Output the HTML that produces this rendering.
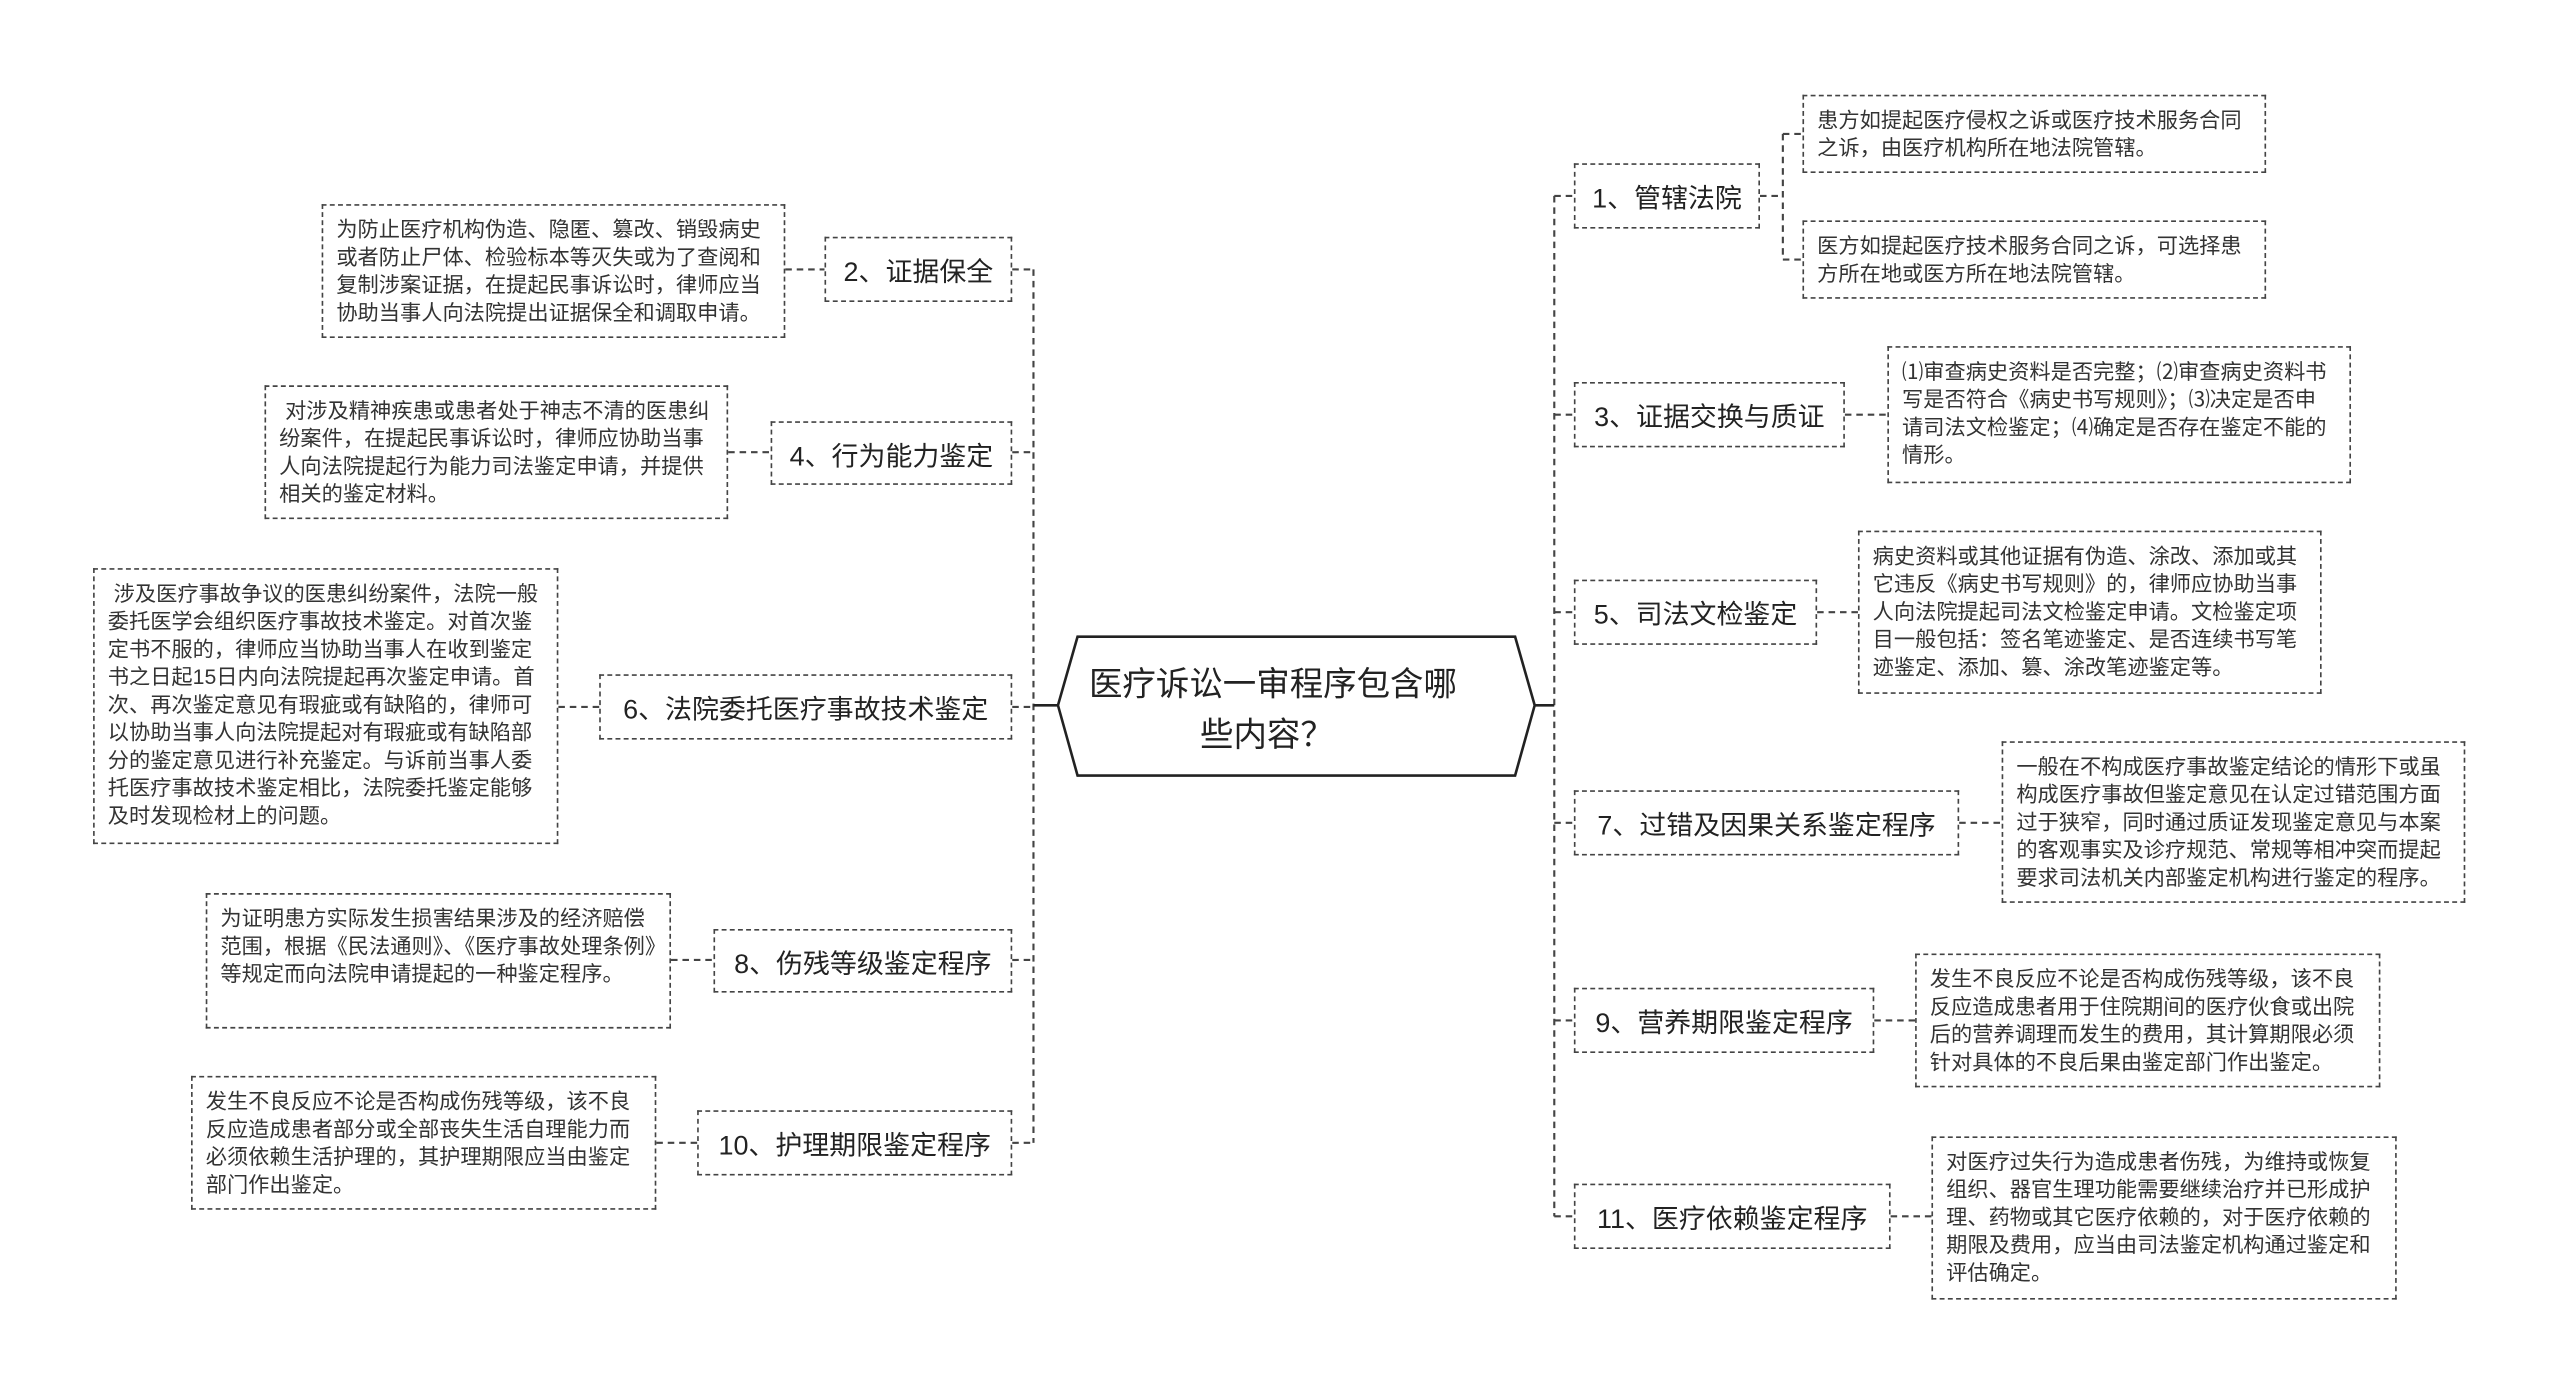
<!DOCTYPE html>
<html><head><meta charset="utf-8">
<style>
html,body{margin:0;padding:0;background:#fff;}
body{width:2560px;height:1394px;overflow:hidden;position:relative;}
#c{position:absolute;left:0;top:0;width:1568px;height:854px;transform:scale(1.63265);transform-origin:0 0;font-family:"Liberation Sans","Noto Sans CJK SC",sans-serif;color:#222;}
.b{position:absolute;border:1px dashed #444;box-sizing:border-box;display:flex;align-items:center;justify-content:center;font-size:16.5px;white-space:nowrap;}
.d{position:absolute;border:1px dashed #444;box-sizing:border-box;font-size:13px;line-height:17px;padding:6px 8px;color:#333;}
svg{position:absolute;left:0;top:0;}
</style></head><body><div id="c">
<svg width="1568" height="854" viewBox="0 0 1568 854">
<g stroke="#444" stroke-width="1.3" fill="none" stroke-dasharray="4,3">
<line x1="633" y1="165" x2="633" y2="700"/>
<line x1="952" y1="120" x2="952" y2="745"/>
<line x1="620" y1="165" x2="633" y2="165"/>
<line x1="620" y1="277" x2="633" y2="277"/>
<line x1="620" y1="433" x2="633" y2="433"/>
<line x1="620" y1="588" x2="633" y2="588"/>
<line x1="620" y1="700" x2="633" y2="700"/>
<line x1="952" y1="120" x2="964" y2="120"/>
<line x1="952" y1="254" x2="964" y2="254"/>
<line x1="952" y1="375" x2="964" y2="375"/>
<line x1="952" y1="504" x2="964" y2="504"/>
<line x1="952" y1="625" x2="964" y2="625"/>
<line x1="952" y1="745" x2="964" y2="745"/>
<line x1="481" y1="165" x2="505" y2="165"/>
<line x1="446" y1="277" x2="472" y2="277"/>
<line x1="342" y1="433" x2="367" y2="433"/>
<line x1="411" y1="588" x2="437" y2="588"/>
<line x1="402" y1="700" x2="427" y2="700"/>
<line x1="1078" y1="120" x2="1092" y2="120"/>
<line x1="1092" y1="82" x2="1092" y2="159"/>
<line x1="1092" y1="82" x2="1104" y2="82"/>
<line x1="1092" y1="159" x2="1104" y2="159"/>
<line x1="1130" y1="254" x2="1156" y2="254"/>
<line x1="1113" y1="375" x2="1138" y2="375"/>
<line x1="1200" y1="504" x2="1226" y2="504"/>
<line x1="1148" y1="625" x2="1173" y2="625"/>
<line x1="1158" y1="745" x2="1183" y2="745"/>
</g>
<g stroke="#222" stroke-width="1.6" fill="none">
<line x1="633" y1="432" x2="648" y2="432"/>
<line x1="940" y1="432" x2="952" y2="432"/>
<polygon points="648,432 660,390 928,390 940,432 928,475 660,475" fill="#fff"/>
</g>
<text x="667" y="426" font-size="20.5" fill="#222" font-family="Liberation Sans, Noto Sans CJK SC, sans-serif">医疗诉讼一审程序包含哪</text>
<text x="735" y="457" font-size="20.5" fill="#222" font-family="Liberation Sans, Noto Sans CJK SC, sans-serif">些内容？</text>
</svg>

<div class="b" style="left:505px;top:145px;width:115px;height:40px;">2、证据保全</div>
<div class="b" style="left:472px;top:258px;width:148px;height:39px;">4、行为能力鉴定</div>
<div class="b" style="left:367px;top:413px;width:253px;height:40px;">6、法院委托医疗事故技术鉴定</div>
<div class="b" style="left:437px;top:569px;width:183px;height:39px;">8、伤残等级鉴定程序</div>
<div class="b" style="left:427px;top:680px;width:193px;height:40px;">10、护理期限鉴定程序</div>

<div class="b" style="left:964px;top:100px;width:114px;height:40px;">1、管辖法院</div>
<div class="b" style="left:964px;top:234px;width:166px;height:40px;">3、证据交换与质证</div>
<div class="b" style="left:964px;top:355px;width:149px;height:40px;">5、司法文检鉴定</div>
<div class="b" style="left:964px;top:484px;width:236px;height:40px;">7、过错及因果关系鉴定程序</div>
<div class="b" style="left:964px;top:605px;width:184px;height:40px;">9、营养期限鉴定程序</div>
<div class="b" style="left:964px;top:725px;width:194px;height:40px;">11、医疗依赖鉴定程序</div>

<div class="d" style="left:197px;top:125px;width:284px;height:82px;">为防止医疗机构伪造、隐匿、篡改、销毁病史或者防止尸体、检验标本等灭失或为了查阅和复制涉案证据，在提起民事诉讼时，律师应当协助当事人向法院提出证据保全和调取申请。</div>
<div class="d" style="left:162px;top:236px;width:284px;height:82px;">&nbsp;对涉及精神疾患或患者处于神志不清的医患纠纷案件，在提起民事诉讼时，律师应协助当事人向法院提起行为能力司法鉴定申请，并提供相关的鉴定材料。</div>
<div class="d" style="left:57px;top:348px;width:285px;height:169px;">&nbsp;涉及医疗事故争议的医患纠纷案件，法院一般委托医学会组织医疗事故技术鉴定。对首次鉴定书不服的，律师应当协助当事人在收到鉴定书之日起15日内向法院提起再次鉴定申请。首次、再次鉴定意见有瑕疵或有缺陷的，律师可以协助当事人向法院提起对有瑕疵或有缺陷部分的鉴定意见进行补充鉴定。与诉前当事人委托医疗事故技术鉴定相比，法院委托鉴定能够及时发现检材上的问题。</div>
<div class="d" style="left:126px;top:547px;width:285px;height:83px;">为证明患方实际发生损害结果涉及的经济赔偿范围，根据《民法通则》、《医疗事故处理条例》等规定而向法院申请提起的一种鉴定程序。</div>
<div class="d" style="left:117px;top:659px;width:285px;height:82px;">发生不良反应不论是否构成伤残等级，该不良反应造成患者部分或全部丧失生活自理能力而必须依赖生活护理的，其护理期限应当由鉴定部门作出鉴定。</div>

<div class="d" style="left:1104px;top:58px;width:284px;height:48px;">患方如提起医疗侵权之诉或医疗技术服务合同之诉，由医疗机构所在地法院管辖。</div>
<div class="d" style="left:1104px;top:135px;width:284px;height:48px;">医方如提起医疗技术服务合同之诉，可选择患方所在地或医方所在地法院管辖。</div>
<div class="d" style="left:1156px;top:212px;width:284px;height:84px;">⑴审查病史资料是否完整；⑵审查病史资料书写是否符合《病史书写规则》；⑶决定是否申请司法文检鉴定；⑷确定是否存在鉴定不能的情形。</div>
<div class="d" style="left:1138px;top:325px;width:284px;height:100px;">病史资料或其他证据有伪造、涂改、添加或其它违反《病史书写规则》的，律师应协助当事人向法院提起司法文检鉴定申请。文检鉴定项目一般包括：签名笔迹鉴定、是否连续书写笔迹鉴定、添加、篡、涂改笔迹鉴定等。</div>
<div class="d" style="left:1226px;top:454px;width:284px;height:99px;">一般在不构成医疗事故鉴定结论的情形下或虽构成医疗事故但鉴定意见在认定过错范围方面过于狭窄，同时通过质证发现鉴定意见与本案的客观事实及诊疗规范、常规等相冲突而提起要求司法机关内部鉴定机构进行鉴定的程序。</div>
<div class="d" style="left:1173px;top:584px;width:285px;height:82px;">发生不良反应不论是否构成伤残等级，该不良反应造成患者用于住院期间的医疗伙食或出院后的营养调理而发生的费用，其计算期限必须针对具体的不良后果由鉴定部门作出鉴定。</div>
<div class="d" style="left:1183px;top:696px;width:285px;height:100px;">对医疗过失行为造成患者伤残，为维持或恢复组织、器官生理功能需要继续治疗并已形成护理、药物或其它医疗依赖的，对于医疗依赖的期限及费用，应当由司法鉴定机构通过鉴定和评估确定。</div>
</div></body></html>
